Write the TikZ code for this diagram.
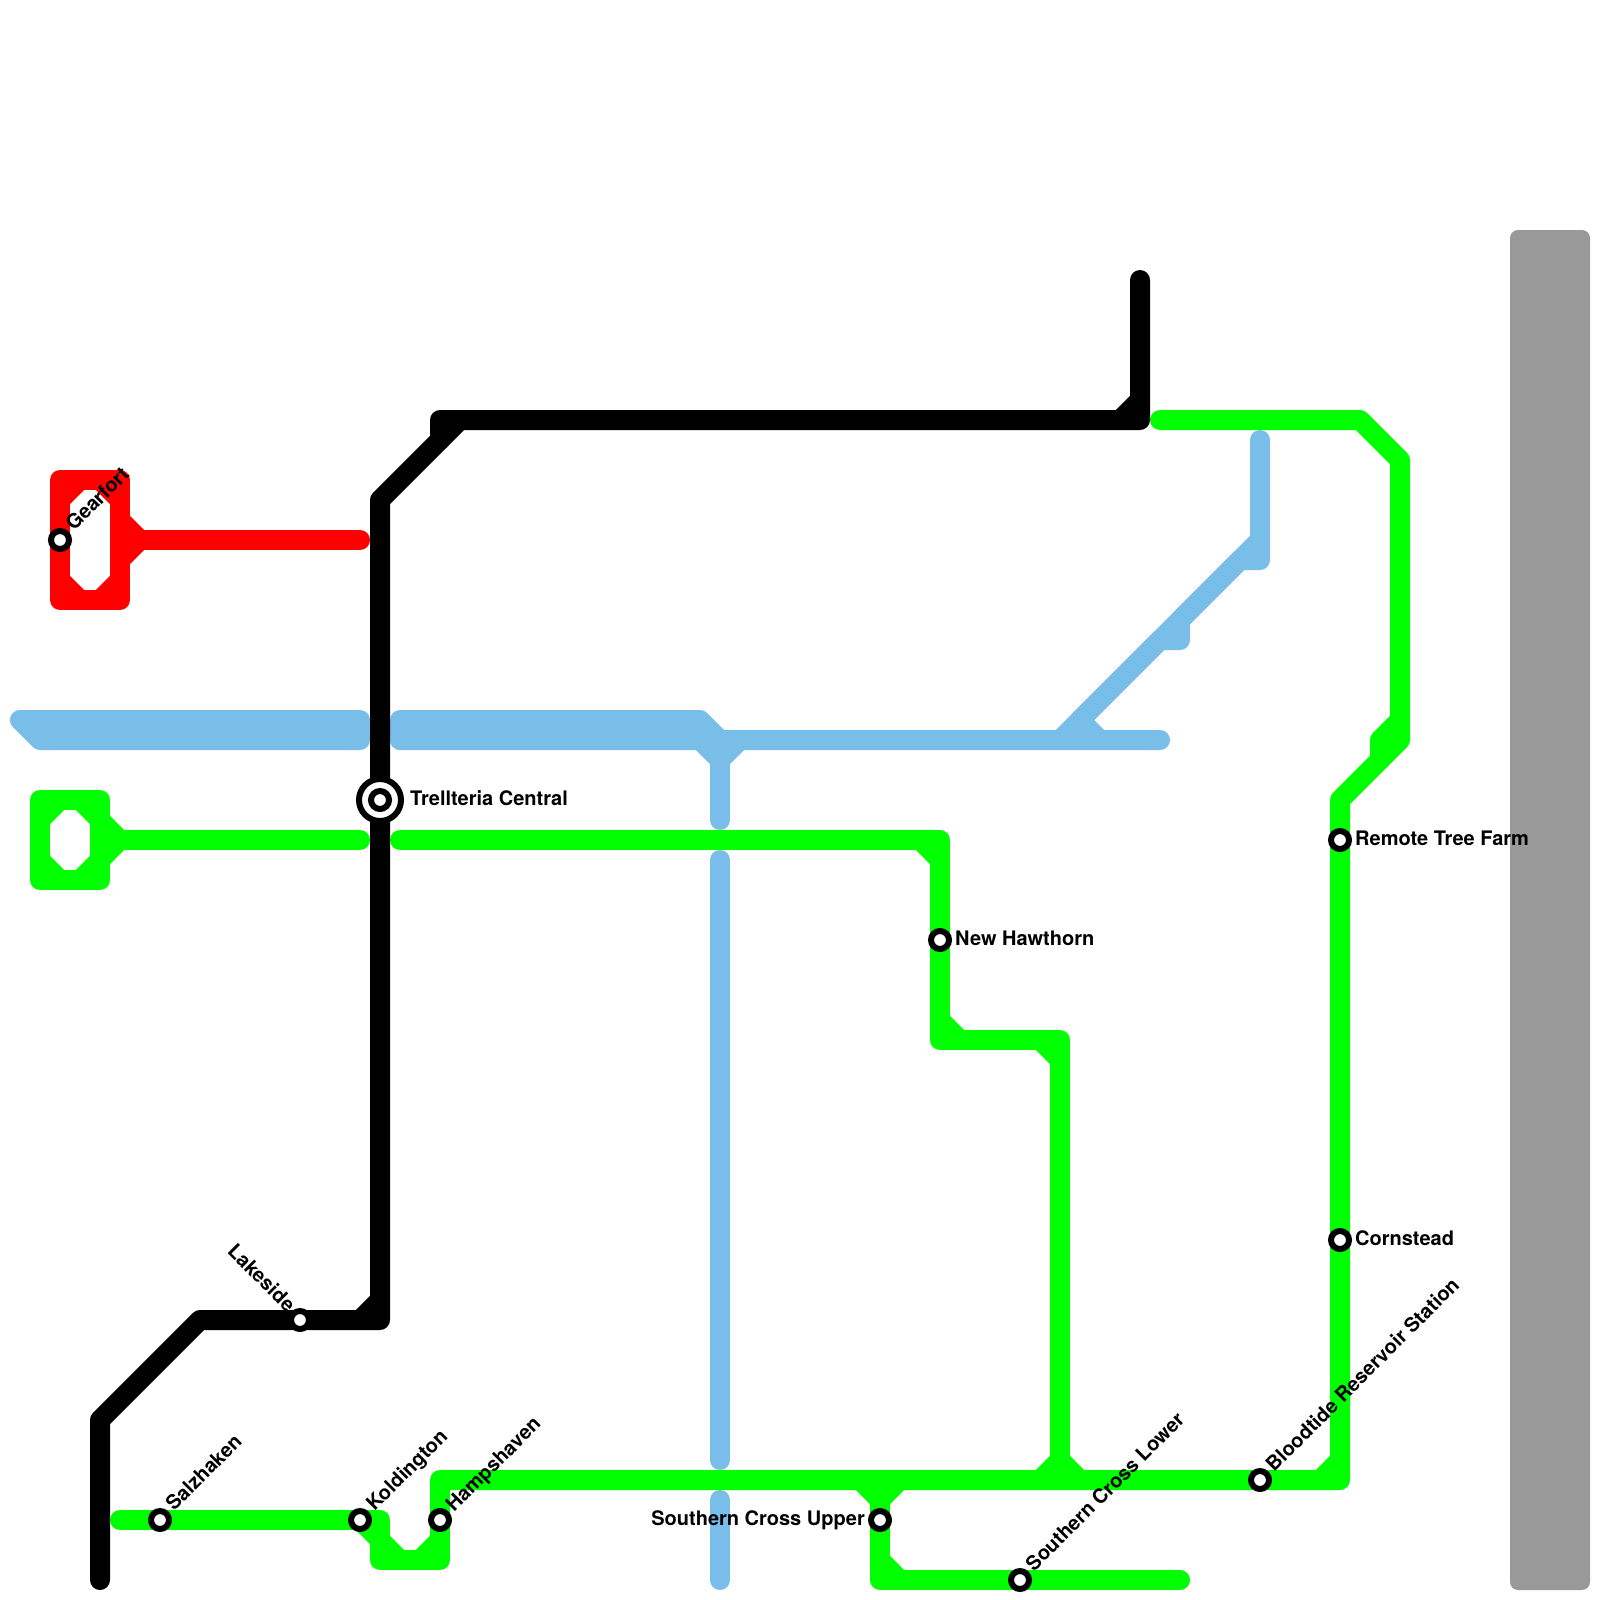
\documentclass[tikz,border=0pt]{standalone}
\usepackage{fontspec}
\setmainfont{TeX Gyre Heros}
\definecolor{lblue}{HTML}{79BDE9}
\definecolor{lgreen}{HTML}{00FF00}
\definecolor{lred}{HTML}{FF0000}
\definecolor{lgray}{HTML}{999999}
\tikzset{
  route/.style={line width=20pt,line cap=round,line join=round},
  blueroute/.style={route,draw=lblue},
  greenroute/.style={route,draw=lgreen},
  redroute/.style={route,draw=lred},
  blackroute/.style={route,draw=black},
  stop/.style={circle,draw=black,fill=white,line width=6pt,minimum size=18pt,inner sep=0pt,outer sep=0pt},
  hubouter/.style={circle,draw=black,fill=white,line width=6pt,minimum size=42pt,inner sep=0pt,outer sep=0pt},
  lbl/.style={font=\fontsize{20}{24}\selectfont\bfseries,inner sep=0pt,text=black},
  lblup/.style={lbl,rotate=45,anchor=base west},
  lbldown/.style={lbl,rotate=-45,anchor=base east},
  lblright/.style={lbl,anchor=base west},
  lblleft/.style={lbl,anchor=base east}
}
\begin{document}
\begin{tikzpicture}[x=1pt,y=-1pt]
\useasboundingbox (0,0) rectangle (1600,1600);
% water block
\fill[lgray,rounded corners=8pt] (1510,230) rectangle (1590,1590);
% station positions
\coordinate (pGear) at (60,540);
\coordinate (pTrel) at (380,800);
\coordinate (pLake) at (300,1320);
\coordinate (pSalz) at (160,1520);
\coordinate (pKold) at (360,1520);
\coordinate (pHamp) at (440,1520);
\coordinate (pSCU) at (880,1520);
\coordinate (pSCL) at (1020,1580);
\coordinate (pBlood) at (1260,1480);
\coordinate (pCorn) at (1340,1240);
\coordinate (pRemote) at (1340,840);
\coordinate (pNew) at (940,940);
% blue
\draw[blueroute] (20,720) -- (360,720) -- (360,740) -- (40,740) -- cycle;
\draw[blueroute] (40,730) -- (360,730);
\draw[blueroute] (400,740) -- (400,720) -- (700,720) -- (720,740) -- (1160,740);
\draw[blueroute] (400,740) -- (700,740) -- (720,760) -- (740,740);
\draw[blueroute] (400,730) -- (700,730);
\draw[blueroute] (720,760) -- (720,820);
\draw[blueroute] (720,860) -- (720,1460);
\draw[blueroute] (720,1500) -- (720,1580);
\draw[blueroute] (1260,440) -- (1260,560) -- (1240,560) -- (1180,620) -- (1180,640) -- (1160,640) -- (1060,740);
\draw[blueroute] (1260,540) -- (1160,640) -- (1080,720) -- (1100,740);
% red
\draw[redroute] (60,480) rectangle (120,600);
\draw[redroute] (80,480) -- (60,500);
\draw[redroute] (100,480) -- (120,500);
\draw[redroute] (60,580) -- (80,600);
\draw[redroute] (100,600) -- (120,580);
\draw[redroute] (120,520) -- (140,540) -- (120,560);
\draw[redroute] (140,540) -- (360,540);
% green
\draw[greenroute] (40,800) rectangle (100,880);
\draw[greenroute] (60,800) -- (40,820);
\draw[greenroute] (80,800) -- (100,820);
\draw[greenroute] (40,860) -- (60,880);
\draw[greenroute] (80,880) -- (100,860);
\draw[greenroute] (100,820) -- (120,840) -- (100,860);
\draw[greenroute] (120,840) -- (360,840);
\draw[greenroute] (400,840) -- (940,840) -- (pNew) -- (940,1040) -- (1060,1040) -- (1060,1480);
\draw[greenroute] (920,840) -- (940,860);
\draw[greenroute] (940,1020) -- (960,1040);
\draw[greenroute] (1040,1040) -- (1060,1060);
\draw[greenroute] (pHamp) -- (440,1480) -- (pBlood) -- (1340,1480) -- (pCorn) -- (pRemote) -- (1340,800) -- (1400,740) -- (1400,460) -- (1360,420) -- (1160,420);
\draw[greenroute] (1320,1480) -- (1340,1460);
\draw[greenroute] (1040,1480) -- (1060,1460) -- (1080,1480);
\draw[greenroute] (860,1480) -- (880,1500) -- (900,1480);
\draw[greenroute] (880,1500) -- (pSCU) -- (880,1580) -- (pSCL) -- (1180,1580);
\draw[greenroute] (880,1560) -- (900,1580);
\draw[greenroute] (120,1520) -- (pSalz) -- (pKold) -- (380,1520) -- (380,1560) -- (440,1560) -- (pHamp);
\draw[greenroute] (360,1520) -- (380,1540) -- (400,1560);
\draw[greenroute] (420,1560) -- (440,1540);
\draw[greenroute] (1400,720) -- (1380,740) -- (1380,760);
% black
\draw[blackroute] (100,1580) -- (100,1420) -- (200,1320) -- (pLake) -- (380,1320) -- (pTrel) -- (380,500) -- (460,420) -- (1140,420) -- (1140,280);
\draw[blackroute] (460,420) -- (440,420) -- (440,440);
\draw[blackroute] (360,1320) -- (380,1300);
\draw[blackroute] (1120,420) -- (1140,400);
% stations
\node[stop] (sGear) at (pGear) {};
\node[hubouter] (sTrelA) at (pTrel) {};
\node[stop] (sTrelB) at (pTrel) {};
\node[stop] (sLake) at (pLake) {};
\node[stop] (sSalz) at (pSalz) {};
\node[stop] (sKold) at (pKold) {};
\node[stop] (sHamp) at (pHamp) {};
\node[stop] (sSCU) at (pSCU) {};
\node[stop] (sSCL) at (pSCL) {};
\node[stop] (sBlood) at (pBlood) {};
\node[stop] (sCorn) at (pCorn) {};
\node[stop] (sRemote) at (pRemote) {};
\node[stop] (sNew) at (pNew) {};
% labels
\node[lblup] (tGear) at (74,532) {Gearfort};
\node[lblup] (tSalz) at (174,1512) {Salzhaken};
\node[lblup] (tKold) at (374.5,1512) {Koldington};
\node[lblup] (tHamp) at (454,1513) {Hampshaven};
\node[lblup] (tSCL) at (1034,1572.5) {Southern Cross Lower};
\node[lblup] (tBlood) at (1274,1473) {Bloodtide Reservoir Station};
\node[lbldown] (tLake) at (287,1313) {Lakeside};
\node[lblright] (tTrel) at (410,805) {Trellteria Central};
\node[lblright] (tNew) at (955,945) {New Hawthorn};
\node[lblright] (tRemote) at (1355,845) {Remote Tree Farm};
\node[lblright] (tCorn) at (1355,1245) {Cornstead};
\node[lblleft] (tSCU) at (865,1525) {Southern Cross Upper};
\end{tikzpicture}
\end{document}
